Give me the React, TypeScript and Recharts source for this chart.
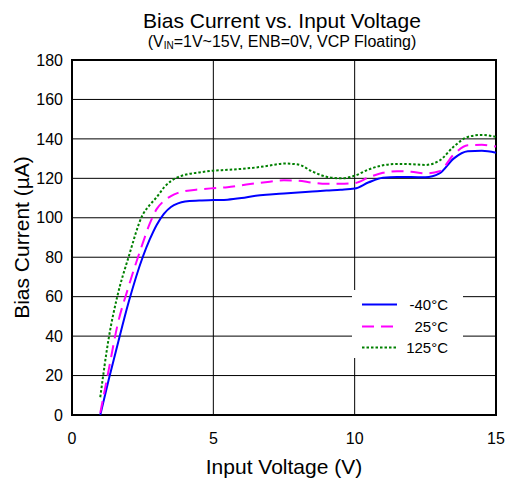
import {
  LineChart,
  Line,
  XAxis,
  YAxis,
  CartesianGrid,
  Legend,
  ReferenceArea,
} from "recharts";

const FONT = '"Liberation Sans", Arial, sans-serif';

const voltage = [
  1, 1.3, 1.6, 2, 2.5, 2.75, 3, 3.25, 3.5, 3.75, 4, 4.5, 5, 5.5, 6, 6.5, 7, 7.5, 8, 8.5,
  9, 9.5, 10, 10.5, 11, 11.5, 12, 12.5, 13, 13.5, 14, 14.5, 15,
];
const currentM40 = [
  0, 18, 35, 57, 80, 89, 96.5, 102, 105.5, 107.3, 108.2, 108.7, 109, 109.2, 110, 111.2,
  111.8, 112.3, 112.8, 113.3, 113.8, 114.2, 114.8, 118, 120.3, 120.7, 120.7, 120.5, 122.5,
  130, 133.7, 134, 133,
];
const current25 = [
  1, 23, 45, 65, 87, 97, 104.5, 108.5, 111, 112.6, 113.5, 114.4, 115, 115.5, 116.5, 117.5,
  118.3, 119, 118.8, 117.8, 117.2, 117.2, 117.6, 120.5, 122.8, 123.6, 123.3, 122.5, 123.6,
  132, 136.8, 137, 136.1,
];
const current125 = [
  9, 39, 60, 80, 101.5, 106.5, 110.5, 115.3, 118.6, 120.6, 121.8, 123, 123.9, 124.3, 124.8,
  125.5, 126.5, 127.5, 127, 123.5, 120.8, 120, 121.3, 124.5, 126.6, 127.3, 127.2, 126.8,
  129, 136, 141, 142, 141,
];

const xTicks = [0, 5, 10, 15];
const yTicks = [0, 20, 40, 60, 80, 100, 120, 140, 160, 180];

const series = [
  { key: "m40", name: "-40°C", color: "#0000ff", dash: undefined as string | undefined },
  { key: "t25", name: "25°C", color: "#ff00ff", dash: "12 7" },
  { key: "t125", name: "125°C", color: "#008000", dash: "2.5 2" },
];

const data = voltage.map((v, i) => ({
  v,
  m40: currentM40[i],
  t25: current25[i],
  t125: current125[i],
}));

const LegendBox = () => (
  <div
    style={{
      background: "#fff",
      width: 111,
      height: 68,
      paddingTop: 4,
      boxSizing: "border-box",
      fontFamily: FONT,
      fontSize: 15,
      color: "#000",
    }}
  >
    {series.map((s) => (
      <div key={s.key} style={{ position: "relative", height: 21.5 }}>
        <svg
          width={35}
          height={21}
          style={{ position: "absolute", left: 10, top: 0 }}
        >
          <line
            x1={0}
            x2={35}
            y1={10.5}
            y2={10.5}
            stroke={s.color}
            strokeWidth={2}
            strokeDasharray={s.dash}
          />
        </svg>
        <span
          style={{
            position: "absolute",
            right: 15,
            top: 0,
            lineHeight: "21px",
          }}
        >
          {s.name}
        </span>
      </div>
    ))}
  </div>
);

export default function App() {
  return (
    <div
      style={{
        position: "absolute",
        left: 0,
        top: 0,
        width: 507,
        height: 483,
        background: "#fff",
        fontFamily: FONT,
      }}
    >
      <div
        style={{
          position: "absolute",
          top: 10,
          left: 0,
          width: 564,
          textAlign: "center",
          fontSize: 21,
          lineHeight: "21px",
        }}
      >
        Bias Current vs. Input Voltage
      </div>
      <div
        style={{
          position: "absolute",
          top: 34,
          left: 0,
          width: 564,
          textAlign: "center",
          fontSize: 16,
          lineHeight: "16px",
        }}
      >
        (V<span style={{ fontSize: 10, position: "relative", top: 2 }}>IN</span>=1V~15V, ENB=0V, VCP Floating)
      </div>
      <LineChart
        width={507}
        height={483}
        data={data}
        margin={{ top: 60, right: 11, left: 0, bottom: 0 }}
      >
        <CartesianGrid stroke="#000" strokeWidth={1} />
        <XAxis
          dataKey="v"
          type="number"
          domain={[0, 15]}
          ticks={xTicks}
          height={68}
          tickLine={false}
          tickSize={0}
          tickMargin={18}
          axisLine={false}
          tick={{ fill: "#000", fontSize: 16, fontFamily: FONT }}
          label={{
            value: "Input Voltage (V)",
            position: "insideBottom",
            offset: 9,
            fill: "#000",
            fontSize: 21,
            fontFamily: FONT,
          }}
        />
        <YAxis
          type="number"
          domain={[0, 180]}
          ticks={yTicks}
          width={72}
          tickLine={false}
          tickSize={0}
          tickMargin={9}
          axisLine={false}
          tick={{ fill: "#000", fontSize: 16, fontFamily: FONT }}
          label={{
            value: "Bias Current (µA)",
            angle: -90,
            position: "insideLeft",
            offset: 22,
            fill: "#000",
            fontSize: 21,
            fontFamily: FONT,
            style: { textAnchor: "middle" },
          }}
        />
        <ReferenceArea
          x1={0}
          x2={15}
          y1={0}
          y2={180}
          fill="none"
          stroke="#000"
          strokeWidth={2}
        />
        {series.map((s) => (
          <Line
            key={s.key}
            dataKey={s.key}
            name={s.name}
            type="monotone"
            stroke={s.color}
            strokeWidth={2}
            strokeDasharray={s.dash}
            dot={false}
            activeDot={false}
            isAnimationActive={false}
          />
        ))}
        <Legend
          layout="horizontal"
          align="center"
          verticalAlign="middle"
          content={<LegendBox />}
          wrapperStyle={{ left: 352, top: 290, width: 111, height: 68 }}
        />
      </LineChart>
    </div>
  );
}
